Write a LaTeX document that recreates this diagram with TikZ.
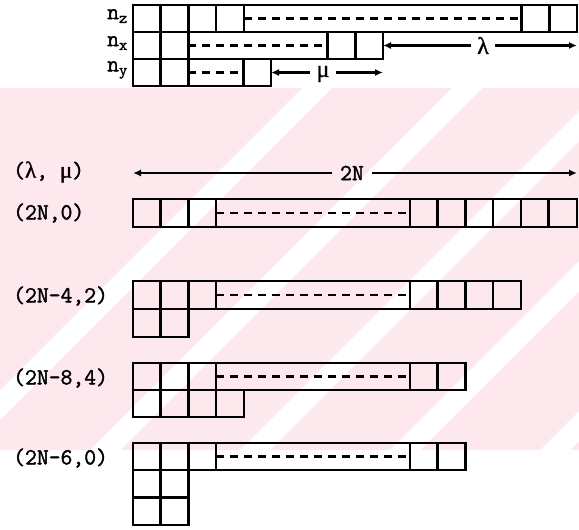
\documentclass[tikz,border=0pt]{standalone}
\usepackage{fontspec}
\newfontfamily\twfont{Latin Modern Mono}[FakeBold=1.6]
\newfontfamily\grfont{Liberation Serif}[FakeBold=1.2]
\usetikzlibrary{arrows.meta}
\definecolor{wmpink}{RGB}{253,233,237}
\tikzset{
  cellline/.style={line width=2.6pt, line join=miter},
  dashline/.style={line width=2.2pt, dash pattern=on 8pt off 6pt},
  dimline/.style={line width=2.2pt, -{Latex[length=8pt,width=7pt]}},
  lbl/.style={font=\fontsize{23}{25}\selectfont\twfont, inner sep=0pt},
  greek/.style={font=\fontsize{24}{26}\selectfont\grfont, inner sep=6pt},
}
\begin{document}
\begin{tikzpicture}[x=1pt,y=-1pt]
\useasboundingbox (0,0) rectangle (579,530);

% watermark band
\fill[wmpink] (0,88) rectangle (579,450);
\begin{scope}
\clip (0,88) rectangle (579,450);
\foreach \s in {-60,90,240,390,540}
  \fill[white] (\s,450) -- (\s+30,450) -- (\s+392,88) -- (\s+362,88) -- cycle;
\end{scope}

\def\cw{27.7}

% occupation of the three oscillator directions
\node[lbl, anchor=east] (nz) at (128,16) {n\textsubscript{z}};
\node[lbl, anchor=east] (nx) at (128,43) {n\textsubscript{x}};
\node[lbl, anchor=east] (ny) at (128,70) {n\textsubscript{y}};

\draw[cellline] (133,5) rectangle (577,32);
\foreach \k in {1,...,4} \draw[cellline] (133+\k*\cw,5) -- ++(0,27);
\foreach \k in {1,2} \draw[cellline] (577-\k*\cw,5) -- ++(0,27);
\draw[dashline] (133+4*\cw,18.5) -- (577-2*\cw,18.5);

\draw[cellline] (133,32) rectangle (383,59);
\foreach \k in {1,2} \draw[cellline] (133+\k*\cw,32) -- ++(0,27);
\foreach \k in {1,2} \draw[cellline] (383-\k*\cw,32) -- ++(0,27);
\draw[dashline] (133+2*\cw,45.5) -- (383-2*\cw,45.5);

\draw[cellline] (133,59) rectangle (271,86);
\foreach \k in {1,2} \draw[cellline] (133+\k*\cw,59) -- ++(0,27);
\draw[cellline] (271-\cw,59) -- ++(0,27);
\draw[dashline] (133+2*\cw,72.5) -- (271-\cw,72.5);

\coordinate (zend) at (577,45.5);
\coordinate (xend) at (383,45.5);
\coordinate (xtip) at (383,72.5);
\coordinate (yend) at (271,72.5);

\node[greek] (lam) at (483,45.5) {λ};
\draw[dimline] (lam) -- (xend);
\draw[dimline] (lam) -- (zend);
\node[greek] (mu) at (323,74) {μ};
\draw[dimline] (mu.west |- yend) -- (yend);
\draw[dimline] (mu.east |- xtip) -- (xtip);

% length of the first row
\node[lbl, anchor=west] (lm) at (13,172) {({\grfont λ}, {\grfont μ})};
\coordinate (tl) at (133,173);
\coordinate (tr) at (577,173);
\node[lbl, inner sep=8pt] (twon) at (352,173) {2N};
\draw[dimline] (twon) -- (tl);
\draw[dimline] (twon) -- (tr);

% (2N,0)
\node[lbl, anchor=west] (a) at (13,213) {(2N,0)};
\draw[cellline] (133,199) rectangle (577,227);
\foreach \k in {1,2,3} \draw[cellline] (133+\k*\cw,199) -- ++(0,28);
\foreach \k in {0,...,5} \draw[cellline] (410+\k*\cw,199) -- ++(0,28);
\draw[dashline] (133+3*\cw,213) -- (410,213);

% (2N-4,2)
\node[lbl, anchor=west] (b) at (13,296) {(2N-4,2)};
\draw[cellline] (133,281) rectangle (410+4*\cw,309);
\foreach \k in {1,2,3} \draw[cellline] (133+\k*\cw,281) -- ++(0,28);
\foreach \k in {0,...,3} \draw[cellline] (410+\k*\cw,281) -- ++(0,28);
\draw[dashline] (133+3*\cw,295) -- (410,295);
\draw[cellline] (133,309) rectangle (133+2*\cw,337);
\draw[cellline] (133+\cw,309) -- ++(0,28);

% (2N-8,4)
\node[lbl, anchor=west] (c) at (13,378) {(2N-8,4)};
\draw[cellline] (133,363) rectangle (410+2*\cw,390);
\foreach \k in {1,2,3} \draw[cellline] (133+\k*\cw,363) -- ++(0,27);
\foreach \k in {0,1} \draw[cellline] (410+\k*\cw,363) -- ++(0,27);
\draw[dashline] (133+3*\cw,376.5) -- (410,376.5);
\draw[cellline] (133,390) rectangle (133+4*\cw,417);
\foreach \k in {1,2,3} \draw[cellline] (133+\k*\cw,390) -- ++(0,27);

% (2N-6,0)
\node[lbl, anchor=west] (d) at (13,458) {(2N-6,0)};
\draw[cellline] (133,443) rectangle (410+2*\cw,470);
\foreach \k in {1,2,3} \draw[cellline] (133+\k*\cw,443) -- ++(0,27);
\foreach \k in {0,1} \draw[cellline] (410+\k*\cw,443) -- ++(0,27);
\draw[dashline] (133+3*\cw,456.5) -- (410,456.5);
\draw[cellline] (133,470) rectangle (133+2*\cw,525);
\draw[cellline] (133,497.5) -- ++(2*\cw,0);
\draw[cellline] (133+\cw,470) -- ++(0,55);
\end{tikzpicture}
\end{document}
